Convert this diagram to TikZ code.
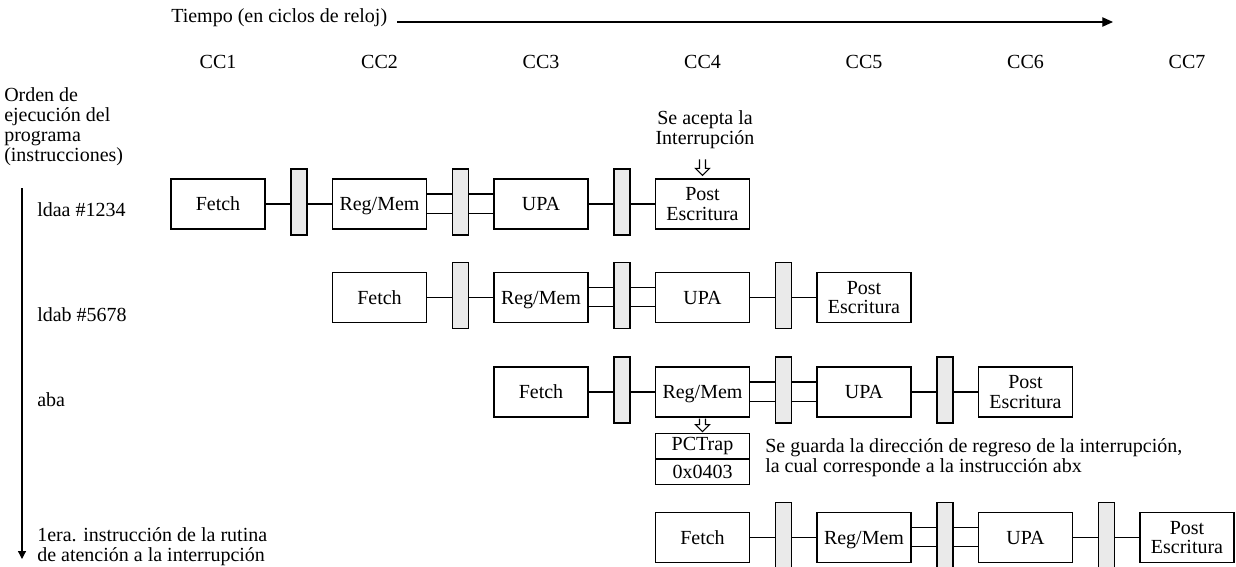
\documentclass[tikz,border=0pt]{standalone}
\usepackage{fontspec}
\setmainfont{Liberation Serif}
\usetikzlibrary{arrows.meta,calc}
\definecolor{latchgray}{HTML}{EAEAEA}

% hollow downward double arrow: #1 = top point, #2 = length (px)
\newcommand\hollowdown[2]{%
  \draw[line width=0.8pt,line join=miter]
    ($(#1)+(-3,0)$) -- ++(0,#2-7) -- ++(-4,0) -- ++(7,7) -- ++(7,-7)
    -- ++(-4,0) -- ++(0,-#2+7);}

\begin{document}
\begin{tikzpicture}[x=0.75pt,y=-0.75pt,
  every node/.style={font=\fontsize{15pt}{15pt}\selectfont, inner sep=0pt},
  stagebox/.style={draw, line width=1pt, fill=white, minimum width=70.5pt,
    minimum height=37.5pt, align=center, font=\fontsize{15pt}{14.5pt}\selectfont},
  latchbox/.style={draw, line width=1pt, fill=latchgray, minimum width=12pt,
    minimum height=49.5pt},
  regbox/.style={draw, line width=1pt, minimum width=70.5pt, minimum height=19pt},
  wire/.style={line width=0.8pt},
  axis/.style={line width=0.9pt},
  textblock/.style={align=left}
]
\useasboundingbox (0,0) rectangle (1236,567);

% time axis
\node[anchor=west] (tiempo) at (171,18) {Tiempo (en ciclos de reloj)};
\coordinate (tstart) at (397,22);
\coordinate (tend) at (1113,22);
\draw[axis,-{Triangle[length=8pt,width=7pt]}] (tstart) -- (tend);

% clock cycle labels
\foreach \k in {1,...,7}
  \node (cc\k) at (218+161.5*\k-161.5,62) {CC\k};

% program order axis
\node[textblock,anchor=north west] (orden) at (4,87)
  {Orden de\\ejecución del\\programa\\(instrucciones)};
\coordinate (ostart) at (22,188);
\coordinate (oend) at (22,559);
\draw[axis,-{Triangle[length=6pt,width=6pt]}] (ostart) -- (oend);

\node[anchor=west] (i1) at (37,210) {ldaa \#1234};
\node[anchor=west] (i2) at (37,315) {ldab \#5678};
\node[anchor=west] (i3) at (37,400) {aba};
\node[textblock,anchor=north west] (i4) at (37,527)
  {1era. instrucción de la rutina\\de atención a la interrupción};

% pipeline rows
\foreach \r/\x/\y in {1/171/204,2/332.5/297.5,3/494/392,4/655.5/537.5}{
  \node[stagebox] (f\r) at (\x+47,\y) {Fetch};
  \node[latchbox] (a\r) at (\x+128,\y-2) {};
  \node[stagebox] (m\r) at (\x+208.5,\y) {\vphantom{Fetch}\smash{Reg/Mem}};
  \node[latchbox] (b\r) at (\x+289.5,\y-2) {};
  \node[stagebox] (u\r) at (\x+370,\y) {UPA};
  \node[latchbox] (c\r) at (\x+451,\y-2) {};
  \node[stagebox] (p\r) at (\x+531.5,\y) {Post\\Escritura};
  \draw[wire] (f\r.east) -- (f\r.east -| a\r.west)
              (m\r.west -| a\r.east) -- (m\r.west);
  \draw[wire] ([yshift=7.5pt]m\r.east) -- ([yshift=7.5pt]m\r.east -| b\r.west)
              ([yshift=7.5pt]u\r.west -| b\r.east) -- ([yshift=7.5pt]u\r.west);
  \draw[wire] ([yshift=-7pt]m\r.east) -- ([yshift=-7pt]m\r.east -| b\r.west)
              ([yshift=-7pt]u\r.west -| b\r.east) -- ([yshift=-7pt]u\r.west);
  \draw[wire] (u\r.east) -- (u\r.east -| c\r.west)
              (p\r.west -| c\r.east) -- (p\r.west);
}

% interrupt accepted
\node[align=center,anchor=north] (acepta) at (705,110) {Se acepta la\\Interrupción};
\coordinate (ia) at ($(p1.north)+(0,-19)$);
\hollowdown{ia}{16}

% saved return address
\coordinate (ib) at ($(m3.south)+(0,1)$);
\hollowdown{ib}{13}
\node[regbox,anchor=north] (pct) at ($(m3.south)+(0,15)$) {PCTrap};
\node[regbox,anchor=north,yshift=0.75pt] (pca) at (pct.south) {0x0403};
\node[textblock,anchor=west] (guarda) at (765,457.5)
  {Se guarda la dirección de regreso de la interrupción,\\la cual corresponde a la instrucción abx};
\end{tikzpicture}
\end{document}
